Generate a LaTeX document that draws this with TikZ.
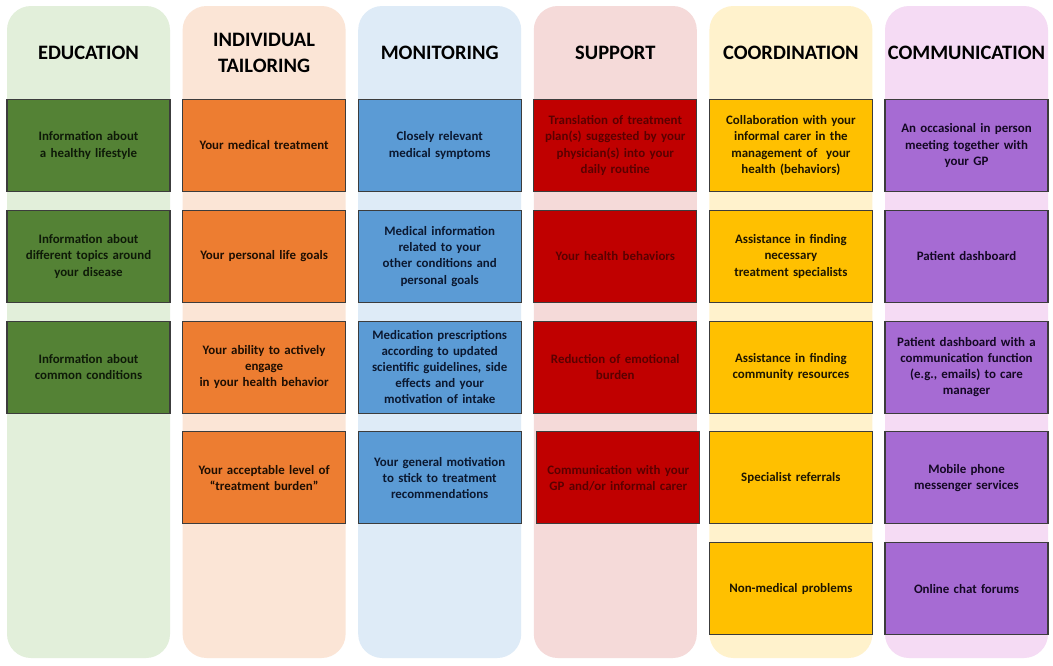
\documentclass[tikz,border=0pt]{standalone}
\usepackage{fontspec}
\setmainfont{Carlito}
\usetikzlibrary{positioning}

\definecolor{edubg}{HTML}{E2EFDA}
\definecolor{edufill}{HTML}{548235}
\definecolor{edutext}{HTML}{0E1A08}
\definecolor{taibg}{HTML}{FBE5D6}
\definecolor{taifill}{HTML}{ED7D31}
\definecolor{taitext}{HTML}{1E0E02}
\definecolor{monbg}{HTML}{DEEBF7}
\definecolor{monfill}{HTML}{5B9BD5}
\definecolor{montext}{HTML}{0B1830}
\definecolor{supbg}{HTML}{F5DAD9}
\definecolor{supfill}{HTML}{C00000}
\definecolor{suptext}{HTML}{5A0000}
\definecolor{coobg}{HTML}{FFF2CC}
\definecolor{coofill}{HTML}{FFC000}
\definecolor{cootext}{HTML}{1E1600}
\definecolor{combg}{HTML}{F5DBF4}
\definecolor{comfill}{HTML}{A66BD3}
\definecolor{comtext}{HTML}{140824}
\definecolor{cellborder}{HTML}{3C3C3C}

\begin{document}
\begin{tikzpicture}[x=1pt,y=-1pt,
    column/.style={rounded corners=24pt,minimum width=163pt,minimum height=652pt,inner sep=0pt},
    header/.style={font=\fontsize{20.5}{26}\selectfont\bfseries,align=center,text=black},
    cell/.style={draw=cellborder,line width=1.1pt,minimum width=163pt,minimum height=92pt,
      inner sep=2pt,text width=158pt,align=center,font=\fontsize{12.9}{16.2}\selectfont\bfseries}]
  \useasboundingbox[fill=white] (0,0) rectangle (1053,665);

  % Spalten mit Ueberschriften
  \foreach \name/\title [count=\c] in {edu/EDUCATION,tai/{INDIVIDUAL\\TAILORING},
      mon/MONITORING,sup/SUPPORT,coo/COORDINATION,com/COMMUNICATION}{
    \node[column,fill=\name bg] (\name col) at ({88.5+175.6*(\c-1)},332) {};
    \node[header] (\name hdr) at ([yshift=-47pt]\name col.north) {\title};
  }

  % Kaesten je Spalte
  \foreach \t [count=\r] in {{Information about\\a healthy lifestyle},
      {Information about\\different topics around\\your disease},
      {Information about\\common conditions}}
    \node[cell,fill=edufill,text=edutext] (edu\r) at (88.5,{145.5+110.8*(\r-1)}) {\t};

  \foreach \t [count=\r] in {{Your medical treatment},
      {Your personal life goals},
      {Your ability to actively\\engage\\in your health behavior},
      {Your acceptable level of\\“treatment burden”}}
    \node[cell,fill=taifill,text=taitext] (tai\r) at (264.1,{145.5+110.8*(\r-1)}) {\t};

  \foreach \t [count=\r] in {{Closely relevant\\medical symptoms},
      {Medical information\\related to your\\other conditions and\\personal goals},
      {Medication prescriptions\\according to updated\\scientific guidelines, side\\effects and your\\motivation of intake},
      {Your general motivation\\to stick to treatment\\recommendations}}
    \node[cell,fill=monfill,text=montext] (mon\r) at (439.7,{145.5+110.8*(\r-1)}) {\t};

  \foreach \t [count=\r] in {{Translation of treatment\\plan(s) suggested by your\\physician(s) into your\\daily routine},
      {Your health behaviors},
      {Reduction of emotional\\burden},
      {Communication with your\\GP and/or informal carer}}
    \node[cell,fill=supfill,text=suptext] (sup\r) at ({615.3+(\r==4)*3},{145.5+110.8*(\r-1)}) {\t};

  \foreach \t [count=\r] in {{Collaboration with your\\informal carer in the\\management of~ your\\health (behaviors)},
      {Assistance in finding\\necessary\\treatment specialists},
      {Assistance in finding\\community resources},
      {Specialist referrals},
      {Non-medical problems}}
    \node[cell,fill=coofill,text=cootext] (coo\r) at (790.9,{145.5+110.8*(\r-1)}) {\t};

  \foreach \t [count=\r] in {{An occasional in person\\meeting together with\\your GP},
      {Patient dashboard},
      {Patient dashboard with a\\communication function\\(e.g., emails) to care\\manager},
      {Mobile phone\\messenger services},
      {Online chat forums}}
    \node[cell,fill=comfill,text=comtext] (com\r) at (966.5,{145.5+110.8*(\r-1)}) {\t};
\end{tikzpicture}
\end{document}
